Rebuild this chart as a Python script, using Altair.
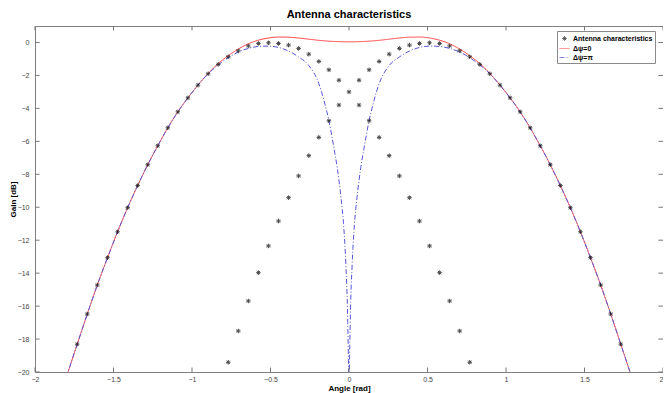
import altair as alt
import pandas as pd

# ---- data ----
series_names = ["Antenna characteristics", "Δψ=0", "Δψ=π"]

# points ("Antenna characteristics"), upper branch
pt_x_upper = [-1.731, -1.667, -1.603, -1.538, -1.474, -1.410, -1.346, -1.282, -1.218, -1.154,
              -1.090, -1.026, -0.962, -0.897, -0.833, -0.769, -0.705, -0.641, -0.577, -0.513,
              -0.449, -0.385, -0.321, -0.256, -0.192, -0.128, -0.064, 0.0,
              0.064, 0.128, 0.192, 0.256, 0.321, 0.385, 0.449, 0.513, 0.577, 0.641,
              0.705, 0.769, 0.833, 0.897, 0.962, 1.026, 1.090, 1.154, 1.218, 1.282,
              1.346, 1.410, 1.474, 1.538, 1.603, 1.667, 1.731]
pt_y_upper = [-18.31, -16.48, -14.72, -13.06, -11.49, -10.03, -8.68, -7.42, -6.27, -5.18,
              -4.21, -3.36, -2.59, -1.90, -1.33, -0.87, -0.51, -0.21, -0.06, -0.02,
              -0.06, -0.16, -0.36, -0.71, -1.15, -1.66, -2.29, -3.00,
              -2.29, -1.66, -1.15, -0.71, -0.36, -0.16, -0.06, -0.02, -0.06, -0.21,
              -0.51, -0.87, -1.33, -1.90, -2.59, -3.36, -4.21, -5.18, -6.27, -7.42,
              -8.68, -10.03, -11.49, -13.06, -14.72, -16.48, -18.31]
# points, lower branch
pt_x_lower = [-0.769, -0.705, -0.641, -0.577, -0.513, -0.449, -0.385, -0.321, -0.256, -0.192, -0.128, -0.064,
              0.064, 0.128, 0.192, 0.256, 0.321, 0.385, 0.449, 0.513, 0.577, 0.641, 0.705, 0.769]
pt_y_lower = [-19.41, -17.51, -15.69, -13.97, -12.35, -10.84, -9.42, -8.10, -6.87, -5.76, -4.75, -3.80,
              -3.80, -4.75, -5.76, -6.87, -8.10, -9.42, -10.84, -12.35, -13.97, -15.69, -17.51, -19.41]

# red curve, delta psi = 0
red_x = [-1.80, -1.731, -1.667, -1.603, -1.538, -1.474, -1.410, -1.346, -1.282, -1.218, -1.154,
         -1.090, -1.026, -0.962, -0.897, -0.833, -0.769, -0.705, -0.641, -0.577, -0.513,
         -0.449, -0.385, -0.321, -0.256, -0.192, -0.128, -0.064, 0.0,
         0.064, 0.128, 0.192, 0.256, 0.321, 0.385, 0.449, 0.513, 0.577, 0.641, 0.705,
         0.769, 0.833, 0.897, 0.962, 1.026, 1.090, 1.154, 1.218, 1.282, 1.346, 1.410,
         1.474, 1.538, 1.603, 1.667, 1.731, 1.80]
red_y = [-20.3, -18.31, -16.48, -14.72, -13.06, -11.49, -10.03, -8.68, -7.42, -6.27, -5.18,
         -4.21, -3.36, -2.59, -1.88, -1.28, -0.80, -0.40, -0.08, 0.14, 0.27,
         0.33, 0.32, 0.27, 0.20, 0.13, 0.08, 0.05, 0.04,
         0.05, 0.08, 0.13, 0.20, 0.27, 0.32, 0.33, 0.27, 0.14, -0.08, -0.40,
         -0.80, -1.28, -1.88, -2.59, -3.36, -4.21, -5.18, -6.27, -7.42, -8.68, -10.03,
         -11.49, -13.06, -14.72, -16.48, -18.31, -20.3]

# blue curve, delta psi = pi
blue_x = [-1.80, -1.731, -1.667, -1.603, -1.538, -1.474, -1.410, -1.346, -1.282, -1.218, -1.154,
          -1.090, -1.026, -0.962, -0.897, -0.833, -0.769, -0.705, -0.641, -0.577, -0.513,
          -0.449, -0.385, -0.321, -0.256, -0.192, -0.160, -0.128, -0.096, -0.075, -0.050,
          -0.035, -0.020, -0.008, -0.002, 0.0,
          0.002, 0.008, 0.020, 0.035, 0.050, 0.075, 0.096, 0.128, 0.160, 0.192, 0.256,
          0.321, 0.385, 0.449, 0.513, 0.577, 0.641, 0.705, 0.769, 0.833, 0.897, 0.962,
          1.026, 1.090, 1.154, 1.218, 1.282, 1.346, 1.410, 1.474, 1.538, 1.603, 1.667, 1.731, 1.80]
blue_y = [-20.3, -18.31, -16.48, -14.72, -13.06, -11.49, -10.03, -8.68, -7.42, -6.27, -5.18,
          -4.21, -3.36, -2.59, -1.90, -1.36, -0.92, -0.58, -0.36, -0.24, -0.22,
          -0.30, -0.52, -0.88, -1.40, -2.50, -3.50, -4.75, -6.40, -7.60, -9.50,
          -11.0, -13.5, -17.0, -21.0, -25.0,
          -21.0, -17.0, -13.5, -11.0, -9.50, -7.60, -6.40, -4.75, -3.50, -2.50, -1.40,
          -0.88, -0.52, -0.30, -0.22, -0.24, -0.36, -0.58, -0.92, -1.36, -1.90, -2.59,
          -3.36, -4.21, -5.18, -6.27, -7.42, -8.68, -10.03, -11.49, -13.06, -14.72, -16.48, -18.31, -20.3]

x_ticks = [-2, -1.5, -1, -0.5, 0, 0.5, 1, 1.5, 2]
y_ticks = [-20, -18, -16, -14, -12, -10, -8, -6, -4, -2, 0]

# ---- tables ----
pts_df = pd.DataFrame({
    "x": pt_x_upper + pt_x_lower,
    "y": pt_y_upper + pt_y_lower,
    "series": series_names[0],
})
lines_df = pd.concat([
    pd.DataFrame({"x": red_x, "y": red_y, "series": series_names[1]}),
    pd.DataFrame({"x": blue_x, "y": blue_y, "series": series_names[2]}),
], ignore_index=True)
xt_df = pd.DataFrame({"x": x_ticks})
yt_df = pd.DataFrame({"y": y_ticks})

FONT = "Liberation Sans"
asterisk = "M-0.45,0L0.45,0M0,-0.45L0,0.45M-0.32,-0.32L0.32,0.32M-0.32,0.32L0.32,-0.32"

xs = alt.Scale(domain=[-2, 2], nice=False, zero=False)
ys = alt.Scale(domain=[-20, 1], nice=False, zero=False)

x_axis = alt.Axis(values=x_ticks, format="~g", tickSize=0, domain=False, grid=False,
                  labelFontSize=7, labelPadding=3, labelFlush=False, labelOverlap=False,
                  labelAlign={"expr": "datum.value >= 2 ? 'right' : 'center'"},
                  title="Angle [rad]", titleFontSize=8, titleFontWeight="bold", titlePadding=2)
y_axis = alt.Axis(values=y_ticks, format="~g", tickSize=0, domain=False, grid=False,
                  labelFontSize=7, labelPadding=6, labelFlush=False, labelOverlap=False,
                  title="Gain [dB]", titleFontSize=8, titleFontWeight="bold", titlePadding=0)

X = alt.X("x:Q", scale=xs, axis=x_axis, title="Angle [rad]")
Y = alt.Y("y:Q", scale=ys, axis=y_axis, title="Gain [dB]")

color = alt.Color("series:N", title=None,
                  scale=alt.Scale(domain=series_names, range=["#000000", "#ff4040", "#5656d8"]))

lines = alt.Chart(lines_df).mark_line(strokeWidth=1, clip=True, interpolate="monotone").encode(
    x=X, y=Y,
    color=color,
    strokeDash=alt.StrokeDash("series:N", title=None,
                              scale=alt.Scale(domain=series_names, range=[[1, 0], [1, 0], [5, 2, 1, 2]])),
)

pts = alt.Chart(pts_df).mark_point(filled=False, strokeWidth=1, size=100, clip=True).encode(
    x=X, y=Y,
    color=color,
    shape=alt.Shape("series:N", title=None,
                    scale=alt.Scale(domain=series_names, range=[asterisk, "stroke", "stroke"])),
)

tick_col = "#777777"
bottom_ticks = alt.Chart(xt_df).mark_rule(color=tick_col, strokeWidth=1).encode(
    x=X, y=alt.YDatum(-20, scale=ys, axis=y_axis, title="Gain [dB]"), y2=alt.datum(-19.73))
top_ticks = alt.Chart(xt_df).mark_rule(color=tick_col, strokeWidth=1).encode(
    x=X, y=alt.YDatum(1, scale=ys, axis=y_axis, title="Gain [dB]"), y2=alt.datum(0.73))
left_ticks = alt.Chart(yt_df).mark_rule(color=tick_col, strokeWidth=1).encode(
    y=Y, x=alt.XDatum(-2, scale=xs, axis=x_axis, title="Angle [rad]"), x2=alt.datum(-1.971))
right_ticks = alt.Chart(yt_df).mark_rule(color=tick_col, strokeWidth=1).encode(
    y=Y, x=alt.XDatum(2, scale=xs, axis=x_axis, title="Angle [rad]"), x2=alt.datum(1.971))

chart = alt.layer(lines, pts, bottom_ticks, top_ticks, left_ticks, right_ticks).properties(
    width=628, height=346,
    title=alt.TitleParams("Antenna characteristics", font=FONT, fontSize=11, fontWeight="bold",
                          color="#000000", anchor="middle", offset=6),
    autosize=alt.AutoSizeParams(type="none"),
    padding={"left": 27, "top": 18, "right": 0, "bottom": 21},
).configure_view(
    stroke="#808080", strokeWidth=1
).configure_axis(
    labelFont=FONT, titleFont=FONT, labelColor="#444444", titleColor="#000000"
).configure_legend(
    orient="none", legendX=522, legendY=5, fillColor="#ffffff", strokeColor="#8a8a8a",
    padding=2, labelFont=FONT, labelFontSize=7, labelFontWeight="bold", labelColor="#000000",
    symbolSize=100, symbolStrokeWidth=1, rowPadding=0, labelOffset=3, cornerRadius=0
)

chart.save("out.html", embed_options={"renderer": "svg", "actions": False})
